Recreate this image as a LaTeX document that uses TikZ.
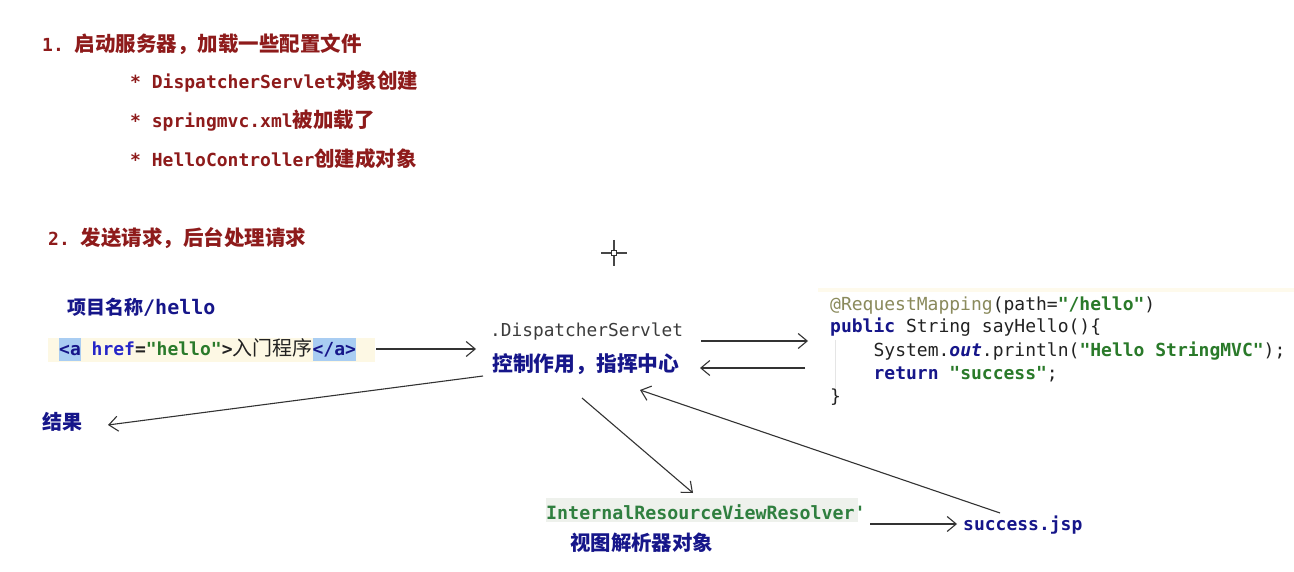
\documentclass[tikz,border=0pt]{standalone}
\usepackage{fontspec}
\usetikzlibrary{arrows.meta}
\newfontfamily\cjkf{Noto Sans CJK SC}
\newfontfamily\monof{DejaVu Sans Mono}
\definecolor{tred}{HTML}{8E1B1B}
\definecolor{navy}{HTML}{16168A}
\definecolor{chref}{HTML}{2626C8}
\definecolor{cgreen}{HTML}{2A7A2A}
\definecolor{cann}{HTML}{8A8A5C}
\definecolor{cdark}{HTML}{222222}
\definecolor{dsgray}{HTML}{3C3C3C}
\definecolor{hlblue}{HTML}{A9CDF2}
\definecolor{cream}{HTML}{FDF8E4}
\definecolor{ivrbg}{HTML}{EEF1EC}
\definecolor{ivrgreen}{HTML}{2F7F3F}
\definecolor{arrc}{HTML}{333333}
\newcommand\Cj[2][20.5]{{\cjkf\fontsize{#1}{#1}\selectfont #2}}
\newcommand\Mo[2][18]{{\monof\fontsize{#1}{#1}\selectfont #2}}
\newcommand\hlx[1]{{\setlength\fboxsep{0pt}\colorbox{hlblue}{\rule[-6pt]{0pt}{23pt}#1}}}
\tikzset{
  lbl/.style={inner sep=0pt, anchor=base west},
  ttl/.style={lbl, font=\bfseries, text=tred},
  navytxt/.style={lbl, font=\bfseries, text=navy},
  codetxt/.style={lbl, text=cdark},
  arr/.style={draw=arrc, line width=1.1pt, -{Straight Barb[length=9pt,width=15pt,line width=1.1pt]}}
}
\begin{document}
\begin{tikzpicture}[x=1pt,y=-1pt]
\useasboundingbox (0,0) rectangle (1294,572);
\fill[white] (0,0) rectangle (1294,572);
% backgrounds
\fill[cream] (48,338) rectangle (375,362);
\fill[ivrbg] (546,498) rectangle (858,522);
\fill[cream!70] (818,288) rectangle (1294,292);
\draw[gray!20, line width=0.8pt] (835,340) -- (835,392);
% cursor
\draw[arrc!90, line width=1.3pt] (601,253) -- (627,253) (614,240) -- (614,266);
\draw[arrc, line width=1pt, fill=white] (611.5,250.5) rectangle (616.5,255.5);
% part 1
\node[ttl] (t1) at (42,52) {\Mo{1.}\hspace{10.8pt}\Cj{启动服务器，加载一些配置文件}};
\node[ttl] (b1) at (130,89) {\Mo{* DispatcherServlet}\Cj{对象创建}};
\node[ttl] (b2) at (130,128) {\Mo{* springmvc.xml}\Cj{被加载了}};
\node[ttl] (b3) at (130,167) {\Mo{* HelloController}\Cj{创建成对象}};
% part 2
\node[ttl] (t2) at (48,246) {\Mo{2.}\hspace{10.8pt}\Cj{发送请求，后台处理请求}};
\node[navytxt] (proj) at (67,315) {\Cj[19]{项目名称}\Mo[20]{/hello}};
\node[lbl, font=\bfseries] (link) at (59,355) {\Mo{\hlx{\color{navy}<a}\color{chref}\ href\color{cdark}=\color{cgreen}"hello"\color{cdark}>}\Cj[20]{\mdseries\color{cdark}入门程序}\Mo{\hlx{\color{navy}</a>}}};
\node[lbl, text=dsgray] (ds) at (490,336) {\Mo[17.8]{.DispatcherServlet}};
\node[navytxt] (ctrl) at (492,371) {\Cj[20.8]{控制作用，指挥中心}};
\node[navytxt] (res) at (42,429) {\Cj[20]{结果}};
\node[lbl, font=\bfseries, text=ivrgreen] (ivr) at (546,519) {\Mo[18.3]{InternalResourceViewResolver'}};
\node[navytxt] (vr) at (570,550) {\Cj[20.4]{视图解析器对象}};
\node[navytxt] (jsp) at (963,530) {\Mo{success.jsp}};
% code block
\node[codetxt] (c1) at (830,310) {\Mo{\color{cann}@RequestMapping\color{cdark}(path=\textbf{\color{cgreen}"/hello"})}};
\node[codetxt] (c2) at (830,333) {\Mo{\textbf{\color{navy}public} String sayHello()\{}};
\node[codetxt] (c3) at (873.4,356) {\Mo{System.\textbf{\itshape\color{navy}out}.println(\textbf{\color{cgreen}"Hello StringMVC"});}};
\node[codetxt] (c4) at (873.4,379) {\Mo{\textbf{\color{navy}return} \textbf{\color{cgreen}"success"};}};
\node[codetxt] (c5) at (830,402) {\Mo{\}}};
% connectors
\draw[arr] ([shift={(317,-6)}]link.base west) -- ([shift={(-14,13)}]ds.base west);
\draw[arr] ([shift={(211,5)}]ds.base west) -- ([shift={(-22,8)}]c2.base west);
\draw[arr] ([shift={(-68.4,12)}]c3.base west) -- ([shift={(208,-3)}]ctrl.base west);
\draw[arr] ([shift={(-9,5)}]ctrl.base west) -- ([shift={(66,-4)}]res.base west);
\draw[arr] ([shift={(90,27)}]ctrl.base west) -- ([shift={(147,-26)}]ivr.base west);
\draw[arr] ([shift={(37,-17)}]jsp.base west) -- ([shift={(148,19)}]ctrl.base west);
\draw[arr] ([shift={(324,5)}]ivr.base west) -- ([shift={(-6,-6)}]jsp.base west);
\end{tikzpicture}
\end{document}
